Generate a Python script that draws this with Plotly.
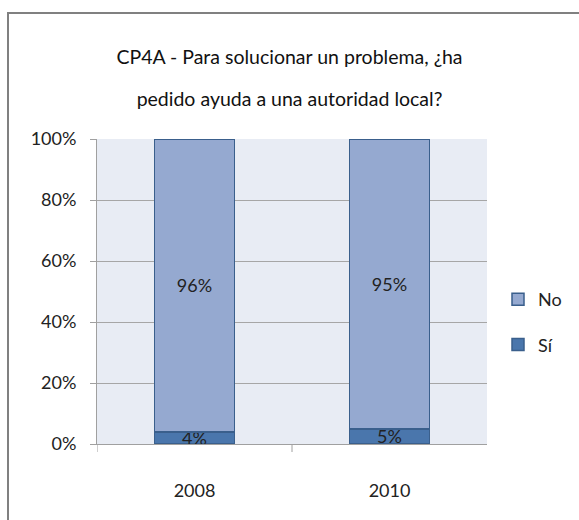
import plotly.graph_objects as go

years = ["2008", "2010"]
si_vals = [4, 5]
no_vals = [96, 95]
si_labels = ["4%", "5%"]
no_labels = ["96%", "95%"]
y_ticks = [0, 20, 40, 60, 80, 100]
y_tick_text = ["0%", "20%", "40%", "60%", "80%", "100%"]
title_line1 = "CP4A - Para solucionar un problema, ¿ha"
title_line2 = "pedido ayuda a una autoridad local?"

FONT = "Lato, Open Sans, sans-serif"

fig = go.Figure()
fig.add_trace(go.Bar(
    x=years, y=si_vals, name="Sí", text=si_labels, textposition="inside",
    insidetextanchor="middle", constraintext="none",
    marker=dict(color="#4A76AC", line=dict(color="#3A5F8C", width=1.5)),
    textfont=dict(color="#222222", size=18, family=FONT),
    legendgroup="a", legendrank=2,
))
fig.add_trace(go.Bar(
    x=years, y=no_vals, name="No", text=no_labels, textposition="inside",
    insidetextanchor="middle",
    marker=dict(color="#95A9D0", line=dict(color="#3A5F8C", width=1.5)),
    textfont=dict(color="#222222", size=18, family=FONT),
    legendgroup="b", legendrank=1,
))

W, H = 579, 520
L, R, T, B = 97, 92, 139, 76
pw, ph = W - L - R, H - T - B

def px(x):
    return (x - L) / pw

def py(y):
    return (H - B - y) / ph

fig.update_layout(
    width=W, height=H,
    autosize=False,
    margin=dict(l=L, r=R, t=T, b=B),
    barmode="stack",
    bargap=0.59,
    paper_bgcolor="white",
    plot_bgcolor="#E8ECF4",
    font=dict(family=FONT, color="#222222", size=18),
    title=dict(
        text=title_line1,
        x=0.5, xanchor="center", y=(H - 57) / H, yanchor="middle",
        font=dict(size=19.5, family=FONT, color="#111111"),
        subtitle=dict(text=title_line2, font=dict(size=19.5, family=FONT, color="#111111")),
    ),
    showlegend=True,
    legend=dict(
        x=px(498), y=py(281), xanchor="left", yanchor="top",
        traceorder="grouped", tracegroupgap=19,
        font=dict(size=18, family=FONT), bgcolor="rgba(0,0,0,0)",
    ),
    xaxis=dict(
        range=[-0.5, 1.5], showgrid=False, ticks="", showline=True,
        linecolor="#A0A0A0", linewidth=1, tickfont=dict(size=18),
        ticklabelstandoff=30,
    ),
    yaxis=dict(
        range=[0, 100], tickvals=y_ticks, ticktext=y_tick_text,
        showgrid=True, gridcolor="#A6A6A6", gridwidth=1,
        showline=True, linecolor="#A0A0A0", ticks="outside", ticklen=6,
        tickcolor="#A0A0A0", tickfont=dict(size=18), zeroline=False,
        ticklabelstandoff=10,
    ),
    shapes=[
        dict(type="rect", xref="paper", yref="paper",
             x0=px(8), x1=px(600), y0=py(540), y1=py(13),
             line=dict(color="#808080", width=2), fillcolor="rgba(0,0,0,0)"),
        dict(type="line", xref="x", yref="paper", x0=0.5, x1=0.5,
             y0=0, y1=py(452), line=dict(color="#A0A0A0", width=1)),
        dict(type="line", xref="x", yref="paper", x0=-0.5, x1=-0.5,
             y0=0, y1=py(452), line=dict(color="#A0A0A0", width=1)),
    ],
)

fig.write_html(
    "out.html",
    config={"displayModeBar": False},
    post_script="document.body.style.margin='0';document.body.style.overflow='hidden';",
)
